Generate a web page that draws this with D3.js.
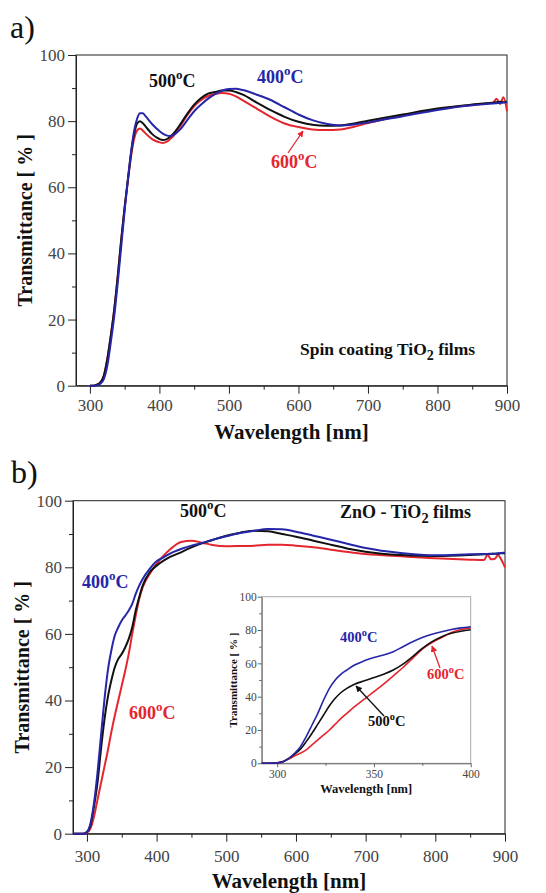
<!DOCTYPE html>
<html>
<head>
<meta charset="utf-8">
<script src="https://cdn.jsdelivr.net/npm/d3@7"></script>
<style>
  body { margin: 0; background: #fff; }
  svg text { font-family: "Liberation Serif", "DejaVu Serif", serif !important; }
</style>
</head>
<body>
<svg id="fig" width="546" height="893"></svg>
<script>
// ---- panel a) spin coating TiO2 films
const wlA = [300,305,310,315,320,325,330,335,340,345,350,355,360,364,368,372,376,380,390,400,
  405,410,415,420,430,440,450,460,470,480,490,500,510,520,540,560,580,600,620,640,
  660,680,700,750,800,850,880,885,890,895,900];
const a400 = [0,0,0.1,0.6,2,6,13,21,31,42,53,63,72,77.5,80.8,82.4,82.4,81.5,79,77,
  76.2,75.7,75.5,75.8,77.5,80.3,83,85,86.8,88.2,89.2,89.7,89.8,89.4,88,86.4,84.2,82,80.3,79.2,
  78.7,79,79.6,81.5,83.4,84.8,85.3,85.4,85.5,85.6,85.7];
const a500 = [0,0,0.3,1,3,8,15,23,33,44,54,63,71.5,76.5,79.3,80,79.4,78.4,76,74.6,
  74.3,74.5,75.2,76.2,79,82.2,85,87,88.3,88.8,89.3,89.3,88.8,88,85.6,83.3,81.3,79.8,78.9,78.6,
  78.7,79.3,80.1,82,83.8,85,85.6,85.7,85.9,85.7,85.9];
const a600 = [0,0,0.3,1,3,8,15,23,33,44,54,62.5,70.5,75,77.2,77.8,77.2,76.3,74.5,73.6,
  73.4,73.7,74.5,75.5,78.5,81.8,84.5,86.4,87.6,88.2,88.5,88.3,87.5,86.3,83.8,81.3,79.3,78.2,77.5,77.3,
  77.5,78.3,79.4,81.8,83.6,84.9,85.6,86.8,85.2,87.2,83];

// ---- panel b) ZnO - TiO2 films
const wlB = [280,295,300,305,310,315,320,325,330,335,340,345,350,355,360,365,370,375,380,390,
  400,410,420,435,450,465,480,500,520,540,560,580,600,625,650,675,700,750,800,850,
  870,875,880,885,890,895,900];
const b400 = [0,0,0.5,3,9,18,29,40,49,55,59.5,62,64,65.5,67,69,72,74.5,76.5,79.5,
  81.8,83,84.2,85.5,86.5,87.3,88.2,89.3,90.3,91,91.5,91.4,90.7,89.5,88.3,87,85.8,84.3,83.6,83.9,
  84,84,84.1,84.1,84.2,84.3,84.4];
const b500 = [0,0,0.5,2.5,8,15,25,34,41,46,50,52.5,54,56,58.5,62,67,71,74.5,78.5,
  80.5,82,83.2,84.5,86,87.2,88.2,89.5,90.4,91,90.8,90,89.2,88,86.8,85.6,84.7,83.7,83.4,83.7,
  83.9,84,84,84.1,84.1,84.2,84.2];
const b600 = [0,0,0.3,1.5,5,10,15,20,25,30.5,35.5,40,44.5,49,54,60,65.5,70.5,74,78,
  81,83.5,85.5,87.6,88,87.4,86.7,86.3,86.4,86.5,86.8,86.8,86.5,86,85.3,84.6,84,83.3,82.7,82.3,
  82.2,83.8,82.4,82.5,83.6,82.2,80];

// ---- inset of b)
const wlI = [292,296,300,303,306,309,312,315,318,321,324,327,330,333,336,340,345,350,355,360,
  365,370,375,380,385,390,395,400];
const i400 = [0,0,0.3,1,3,6,10,16,23,30,38,45,50,53.5,56,59,61.5,63.5,65,67,
  70,73,75.5,77.5,79,80.3,81.3,82];
const i500 = [0,0,0.3,1,3,5.5,8.5,13,18,23.5,29,34.5,39,42.5,45,47.5,49.5,51.5,53.5,56,
  59.5,64,69,73,76,78,79.3,80.2];
const i600 = [0,0,0.3,1,2.5,4.5,6,8,11,14,17,20,23.5,27,30,34,38.5,43,47.5,52.5,
  57.5,63,68.5,72.5,75.5,78.5,80.3,81.3];

const yMajor = [0, 20, 40, 60, 80, 100];
const yMinor = [10, 30, 50, 70, 90];
const xMajor = [300, 400, 500, 600, 700, 800, 900];
const xMinor = [350, 450, 550, 650, 750, 850];
const inXMajor = [300, 350, 400];
const inXMinor = [325, 375];

const BLUE = '#2626a8', BLACK = '#111', RED = '#e4262e';
const SERIF = '"Liberation Serif", "DejaVu Serif", serif';

const svg = d3.select('#fig');
svg.append('rect').attr('width', 546).attr('height', 893).attr('fill', '#fff');

svg.append('defs').selectAll('marker')
  .data([['arrRed', RED], ['arrBlack', BLACK]])
  .join('marker')
  .attr('id', d => d[0])
  .attr('viewBox', '0 0 10 10').attr('refX', 9).attr('refY', 5)
  .attr('markerWidth', 5).attr('markerHeight', 5).attr('orient', 'auto')
  .append('path').attr('d', 'M0,0 L10,5 L0,10 z').attr('fill', d => d[1]);

function panel(o) {
  const x = d3.scaleLinear().domain(o.xDomain).range([o.left, o.right]);
  const y = d3.scaleLinear().domain([0, 100]).range([o.bottom, o.top]);
  const g = svg.append('g').attr('font-family', SERIF);

  g.append('rect')
    .attr('x', o.left).attr('y', o.top)
    .attr('width', o.right - o.left).attr('height', o.bottom - o.top)
    .attr('fill', '#fff').attr('stroke', o.frame).attr('stroke-width', 1);

  // minor ticks
  g.append('g').attr('transform', `translate(0,${o.bottom})`)
    .call(d3.axisBottom(x).tickValues(o.xMinor).tickSize(o.minor).tickFormat(''))
    .call(s => s.select('.domain').remove());
  g.append('g').attr('transform', `translate(${o.left},0)`)
    .call(d3.axisLeft(y).tickValues(yMinor).tickSize(o.minor).tickFormat(''))
    .call(s => s.select('.domain').remove());

  // major ticks + labels
  const gx = g.append('g').attr('transform', `translate(0,${o.bottom})`)
    .call(d3.axisBottom(x).tickValues(o.xMajor).tickSize(o.major).tickSizeOuter(0).tickPadding(o.xPad));
  const gy = g.append('g').attr('transform', `translate(${o.left},0)`)
    .call(d3.axisLeft(y).tickValues(yMajor).tickSize(o.major).tickSizeOuter(0).tickPadding(o.yPad));

  g.selectAll('g').attr('font-family', SERIF);
  g.selectAll('.tick line').attr('stroke', o.axis);
  g.selectAll('.domain').attr('stroke', o.axis);
  [gx, gy].forEach(a => a.selectAll('text')
    .attr('font-size', o.tickFont).attr('fill', '#444'));

  const line = d3.line().x(d => x(d[0])).y(d => y(d[1])).curve(d3.curveMonotoneX);
  o.series.forEach(s => {
    g.append('path')
      .datum(o.wl.map((w, i) => [w, s.v[i]]))
      .attr('d', line)
      .attr('fill', 'none').attr('stroke', s.c)
      .attr('stroke-width', o.lw).attr('stroke-linejoin', 'round');
  });

  // axis titles
  g.append('text')
    .attr('transform', `translate(${o.yTitle},${(o.top + o.bottom) / 2}) rotate(-90)`)
    .attr('text-anchor', 'middle').attr('font-weight', 'bold')
    .attr('font-size', o.titleFont).attr('fill', '#111')
    .text('Transmittance [ % ]');
  g.append('text')
    .attr('x', (o.left + o.right) / 2).attr('y', o.xTitle)
    .attr('text-anchor', 'middle').attr('font-weight', 'bold')
    .attr('font-size', o.xTitleFont).attr('fill', '#111')
    .text('Wavelength [nm]');
  return { x, y, g };
}

function degLabel(x, y, num, color, size) {
  const t = svg.append('text').attr('x', x).attr('y', y).attr('font-family', SERIF)
    .attr('fill', color).attr('font-size', size).attr('font-weight', 'bold');
  t.append('tspan').text(num);
  t.append('tspan').attr('font-size', size * 0.72).attr('dy', -size * 0.42).text('o');
  t.append('tspan').attr('dy', size * 0.42).text('C');
}

function filmLabel(x, y, before, after, size) {
  const t = svg.append('text').attr('x', x).attr('y', y).attr('font-family', SERIF)
    .attr('fill', '#111').attr('font-size', size).attr('font-weight', 'bold');
  t.append('tspan').text(before);
  t.append('tspan').attr('font-size', size * 0.8).attr('dy', size * 0.3).text('2');
  t.append('tspan').attr('dy', -size * 0.3).text(after);
}

function arrow(x1, y1, x2, y2, color, marker) {
  svg.append('line').attr('x1', x1).attr('y1', y1).attr('x2', x2).attr('y2', y2)
    .attr('stroke', color).attr('stroke-width', 1.3)
    .attr('marker-end', `url(#${marker})`);
}

// ---------- a)
panel({
  left: 76, right: 507, top: 55, bottom: 385.7, xDomain: [280, 900],
  xMajor, xMinor, major: 8, minor: 4, xPad: 5, yPad: 3, tickFont: 17,
  frame: '#222', axis: '#222', lw: 2,
  wl: wlA,
  series: [{ v: a600, c: RED }, { v: a500, c: BLACK }, { v: a400, c: BLUE }],
  yTitle: 32, xTitle: 439, titleFont: 20, xTitleFont: 21
});
svg.append('text').attr('x', 10).attr('y', 38).attr('font-family', SERIF)
  .attr('font-size', 32).attr('fill', '#111').text('a)');
degLabel(149, 87, '500', BLACK, 18);
degLabel(257, 83, '400', BLUE, 18);
degLabel(271, 168, '600', RED, 18);
arrow(288, 153, 303, 131, RED, 'arrRed');
filmLabel(300, 355, 'Spin coating TiO', ' films', 17.5);

// ---------- b)
panel({
  left: 73, right: 505, top: 500.7, bottom: 833.7, xDomain: [280, 900],
  xMajor, xMinor, major: 8, minor: 4, xPad: 8, yPad: 3, tickFont: 17,
  frame: '#222', axis: '#222', lw: 2,
  wl: wlB,
  series: [{ v: b600, c: RED }, { v: b500, c: BLACK }, { v: b400, c: BLUE }],
  yTitle: 29, xTitle: 888, titleFont: 20, xTitleFont: 21
});
svg.append('text').attr('x', 11).attr('y', 483).attr('font-family', SERIF)
  .attr('font-size', 32).attr('fill', '#111').text('b)');
degLabel(180, 517, '500', BLACK, 18);
degLabel(82, 588, '400', BLUE, 18);
degLabel(129, 719, '600', RED, 18);
filmLabel(340, 518, 'ZnO - TiO', ' films', 18);

// ---------- inset
panel({
  left: 261.7, right: 470.7, top: 596.7, bottom: 763.3, xDomain: [292, 400],
  xMajor: inXMajor, xMinor: inXMinor, major: 4, minor: 2.5, xPad: 3, yPad: 1, tickFont: 11.5,
  frame: '#aaa', axis: '#666', lw: 1.6,
  wl: wlI,
  series: [{ v: i600, c: RED }, { v: i500, c: BLACK }, { v: i400, c: BLUE }],
  yTitle: 237, xTitle: 793, titleFont: 11, xTitleFont: 12.5
});
degLabel(340, 642, '400', BLUE, 14.5);
degLabel(427, 679, '600', RED, 14.5);
degLabel(368, 726, '500', BLACK, 14.5);
arrow(384, 716, 356, 686, BLACK, 'arrBlack');
arrow(440, 668, 432, 646, RED, 'arrRed');
</script>
</body>
</html>
